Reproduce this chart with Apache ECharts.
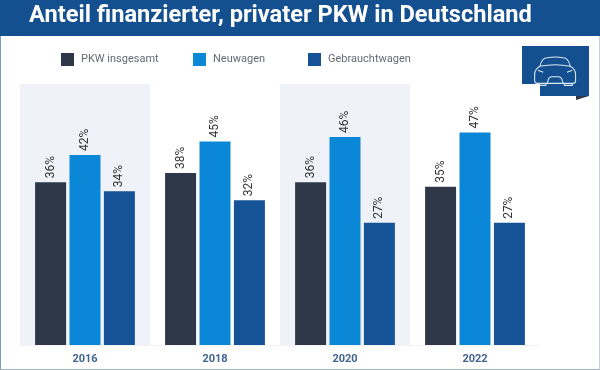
<!DOCTYPE html>
<html><head><meta charset="utf-8">
<style>html,body{margin:0;padding:0;background:#fff}#c{width:600px;height:370px}</style>
<script src="https://cdn.jsdelivr.net/npm/echarts@6/dist/echarts.min.js"></script>
</head><body><div id="c"></div>
<script>
const titleText = 'Anteil finanzierter, privater PKW in Deutschland';
const categories = ['2016','2018','2020','2022'];
const seriesNames = ['PKW insgesamt','Neuwagen','Gebrauchtwagen'];
const pkwInsgesamt = [36,38,36,35];
const neuwagen = [42,45,46,47];
const gebrauchtwagen = [34,32,27,27];
const colors = ['#2f3849','#0a87d6','#155296'];
const values = [pkwInsgesamt, neuwagen, gebrauchtwagen];
const legendLefts = [61,193,308];

const carPath = 'M9 14 C11 5 14 1 20 1 C28 -0.5 36 -0.5 44 1 C50 1 53 5 55 14 C60 17 63 21 63 26 L63 36 C63 39 61 40 59 40 L5 40 C3 40 1 39 1 36 L1 26 C1 21 4 17 9 14 Z '
 + 'M9 14 C24 11 40 11 55 14 M20 40 L22 33 C23 31 25 30 27 30 L37 30 C39 30 41 31 42 33 L44 40 '
 + 'M6 20 L14 23 M58 20 L50 23 M6 40 L6 43 L18 43 L18 40 M46 40 L46 43 L58 43 L58 40';
echarts.graphic.registerShape('carIcon', echarts.graphic.extendPath(carPath, {}));

const chart = echarts.init(document.getElementById('c'), null, {renderer:'canvas'});
chart.setOption({
  animation:false,
  backgroundColor:'#fff',
  textStyle:{fontFamily:'Roboto'},
  title:{text:titleText,left:29,top:4,padding:0,textStyle:{color:'#fff',fontFamily:'Roboto',fontWeight:700,fontSize:23.6}},
  legend:seriesNames.map((n,i)=>({
    data:[n],left:legendLefts[i],top:53,itemWidth:13,itemHeight:13,itemGap:0,padding:0,
    icon:'rect',selectedMode:false,
    textStyle:{color:'#666a72',fontFamily:'Roboto',fontSize:11,padding:[0,0,0,2]}
  })),
  grid:{left:20,right:60,top:84,bottom:25,containLabel:false},
  xAxis:{type:'category',data:categories,
    axisLine:{show:true,lineStyle:{color:'#f2f3f7'}},axisTick:{show:false},
    axisLabel:{color:'#41648f',fontWeight:700,fontSize:11,fontFamily:'Roboto',margin:9},
    splitArea:{show:true,areaStyle:{color:['#eff2f8','#ffffff']}}},
  yAxis:{type:'value',min:0,max:57.7,interval:10,
    axisLine:{show:false},axisTick:{show:false},axisLabel:{show:false},
    splitLine:{show:true,showMinLine:false,showMaxLine:false,lineStyle:{color:'#f6f7fa',width:1}}},
  series:seriesNames.map((n,i)=>({
    name:n,type:'bar',data:values[i],barWidth:31,barGap:'11%',
    itemStyle:{color:colors[i]},
    label:{show:true,position:'top',rotate:90,distance:4,formatter:'{c}%',color:'#333',fontFamily:'Roboto',fontSize:12,align:'left',verticalAlign:'middle'}
  })),
  graphic:[
    {type:'rect',z:-1,shape:{x:0,y:0,width:600,height:36},style:{fill:'#14508f'}},
    {type:'rect',z:-1,shape:{x:0,y:36,width:1,height:334},style:{fill:'#7f9cb9'}},
    {type:'rect',z:-1,shape:{x:0,y:369,width:600,height:1},style:{fill:'#9fb2c6'}},
    {type:'rect',z:-1,shape:{x:599,y:36,width:1,height:334},style:{fill:'#c4d0dc'}},
    {type:'rect',shape:{x:522,y:46,width:67,height:50},style:{fill:'#14508f'}},
    {type:'polygon',shape:{points:[[576,100],[589,96],[576,96]]},style:{fill:'#2f3849'}},
    {type:'carIcon',x:534,y:57,scaleX:0.66,scaleY:0.66,
      style:{fill:'none',stroke:'#dbe9f6',lineWidth:1.6}}
  ]
});
</script></body></html>
